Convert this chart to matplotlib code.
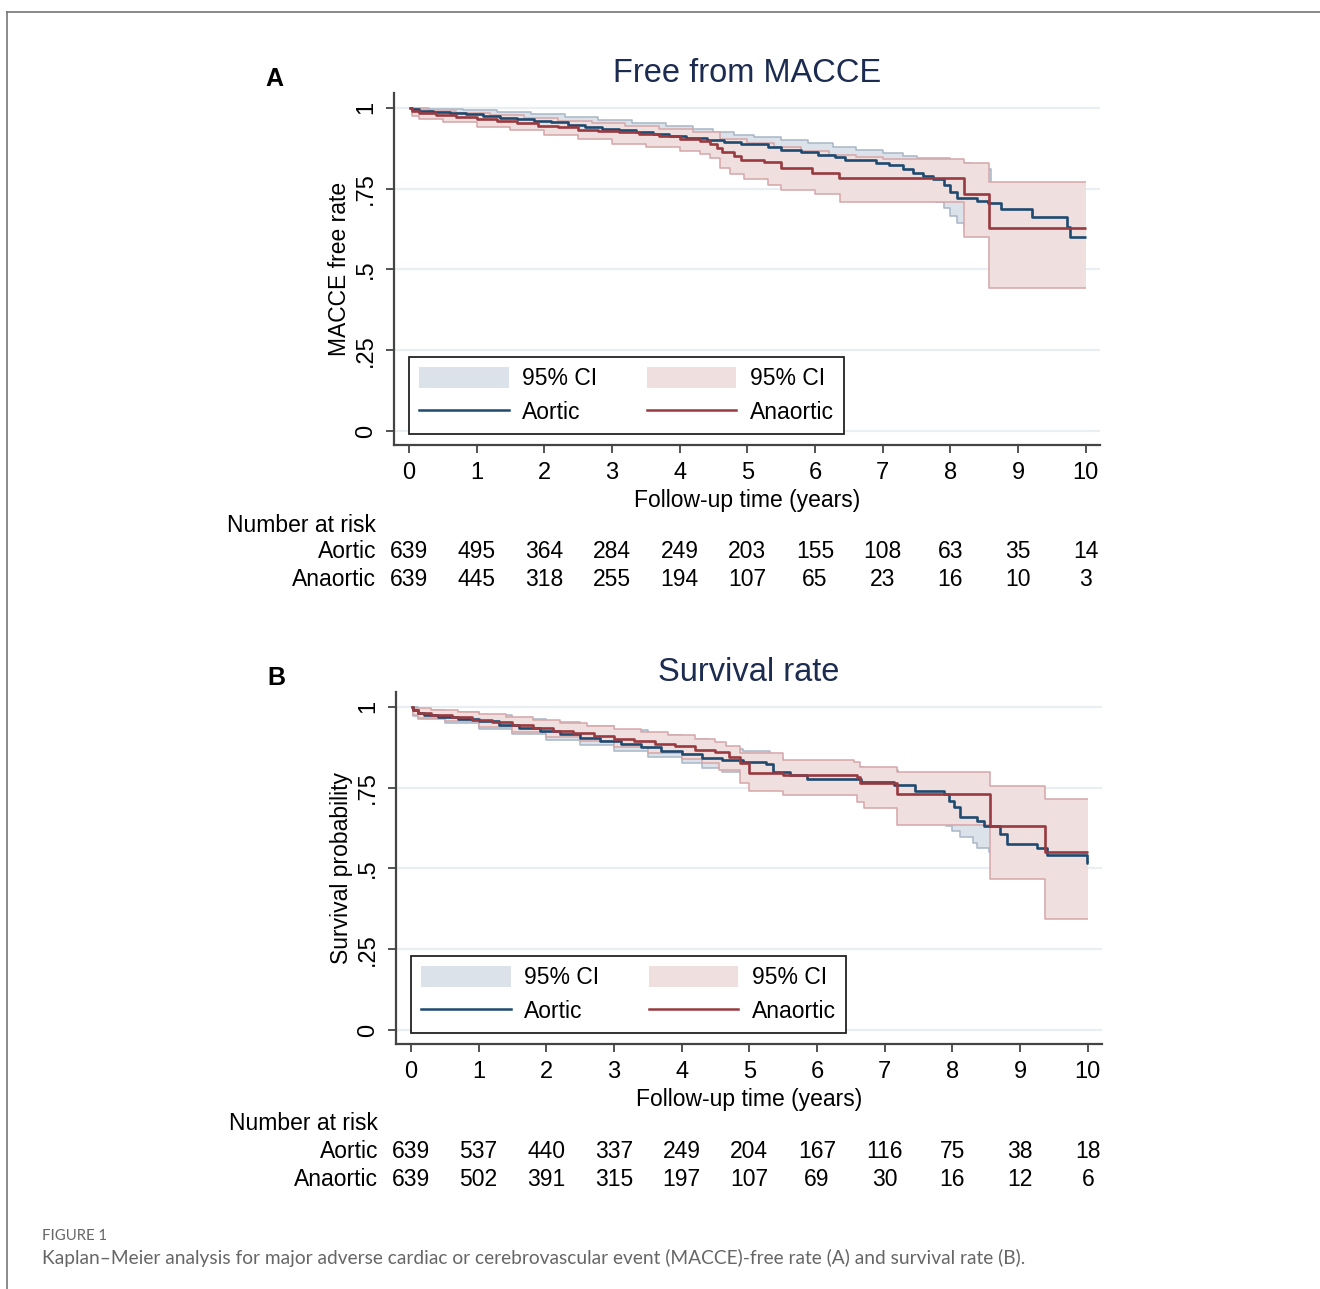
import numpy as np
import matplotlib
matplotlib.use("Agg")
import matplotlib.pyplot as plt
from matplotlib.patches import Patch
from matplotlib.lines import Line2D
import matplotlib.transforms as mtransforms

plt.rcParams['font.family'] = ['Liberation Sans', 'DejaVu Sans']

# ---- panel A: MACCE free rate (step knots) ----
a_aor_t = [0, 0.05, 0.15, 0.35, 0.6, 0.85, 1.1, 1.35, 1.6, 1.85, 2.1, 2.35, 2.6, 2.85, 3.1, 3.35, 3.6, 3.85,
           4.1, 4.4, 4.65, 4.9, 5.3, 5.5, 5.8, 6.05, 6.3, 6.45, 6.9, 7.1, 7.3, 7.45, 7.6, 7.75, 7.9, 8.0,
           8.1, 8.4, 8.55, 8.75, 9.2, 9.72, 9.77]
a_aor_s = [1.0, 0.995, 0.99, 0.988, 0.985, 0.98, 0.975, 0.97, 0.965, 0.96, 0.955, 0.948, 0.942, 0.936, 0.93,
           0.925, 0.918, 0.913, 0.908, 0.902, 0.895, 0.888, 0.878, 0.87, 0.862, 0.855, 0.848, 0.838, 0.83,
           0.822, 0.812, 0.8, 0.79, 0.78, 0.76, 0.74, 0.72, 0.712, 0.705, 0.688, 0.662, 0.632, 0.6]
a_aor_hi_t = [0, 0.3, 0.8, 1.3, 1.8, 2.3, 2.8, 3.3, 3.8, 4.2, 4.5, 4.8, 5.1, 5.5, 5.9, 6.26, 6.6, 7.0, 7.3,
              7.5, 8.0, 8.3, 8.6, 9.2, 9.75]
a_aor_hi_s = [1.0, 0.998, 0.993, 0.987, 0.98, 0.972, 0.963, 0.954, 0.945, 0.935, 0.925, 0.916, 0.91, 0.9,
              0.89, 0.88, 0.87, 0.86, 0.852, 0.845, 0.83, 0.81, 0.765, 0.745, 0.72]
a_aor_lo_t = [0, 0.05, 0.3, 0.8, 1.3, 1.8, 2.3, 2.8, 3.3, 3.8, 4.3, 4.9, 5.5, 6.0, 6.45, 7.0, 7.3, 7.45,
              7.6, 7.78, 7.9, 8.0, 8.1, 8.2, 8.55, 8.75, 9.2, 9.72, 9.77]
a_aor_lo_s = [1.0, 0.985, 0.978, 0.97, 0.96, 0.95, 0.94, 0.925, 0.915, 0.905, 0.89, 0.87, 0.855, 0.84,
              0.815, 0.8, 0.785, 0.765, 0.74, 0.708, 0.69, 0.665, 0.645, 0.635, 0.62, 0.6, 0.57, 0.53, 0.49]

a_ana_t = [0, 0.05, 0.15, 0.4, 0.7, 1.0, 1.3, 1.6, 1.9, 2.2, 2.5, 2.8, 3.1, 3.4, 3.7, 4.0, 4.3, 4.45, 4.55,
           4.62, 4.8, 4.9, 5.25, 5.5, 5.95, 6.35, 8.2, 8.57]
a_ana_s = [1.0, 0.99, 0.983, 0.978, 0.972, 0.965, 0.958, 0.953, 0.945, 0.94, 0.933, 0.928, 0.924, 0.918,
           0.912, 0.905, 0.897, 0.888, 0.875, 0.862, 0.85, 0.84, 0.832, 0.815, 0.8, 0.782, 0.735, 0.628]
a_ana_hi_t = [0, 0.05, 0.3, 0.7, 1.2, 1.7, 2.2, 2.7, 3.2, 3.7, 4.2, 4.6, 5.0, 5.4, 5.8, 6.2, 6.6, 7.0,
              8.2, 8.57]
a_ana_hi_s = [1.0, 0.998, 0.99, 0.985, 0.978, 0.97, 0.96, 0.952, 0.944, 0.936, 0.926, 0.905, 0.89, 0.878,
              0.866, 0.855, 0.848, 0.842, 0.83, 0.77]
a_ana_lo_t = [0, 0.05, 0.15, 0.5, 1.0, 1.5, 2.0, 2.5, 3.0, 3.5, 4.0, 4.3, 4.45, 4.6, 4.75, 4.95, 5.3, 5.5,
              6.0, 6.37, 8.2, 8.57]
a_ana_lo_s = [1.0, 0.975, 0.965, 0.955, 0.942, 0.93, 0.917, 0.905, 0.888, 0.878, 0.866, 0.858, 0.845,
              0.815, 0.795, 0.78, 0.762, 0.745, 0.733, 0.708, 0.602, 0.443]

# ---- panel B: survival probability ----
b_aor_t = [0, 0.03, 0.1, 0.2, 0.4, 0.7, 1.0, 1.3, 1.6, 1.9, 2.2, 2.5, 2.8, 3.1, 3.4, 3.7, 4.0, 4.3, 4.6,
           4.9, 5.25, 5.35, 5.6, 5.85, 6.65, 7.13, 7.45, 7.87, 7.95, 8.02, 8.11, 8.36, 8.46, 8.71, 8.8,
           9.25, 9.4, 9.99]
b_aor_s = [1.0, 0.99, 0.98, 0.975, 0.97, 0.963, 0.955, 0.945, 0.935, 0.925, 0.915, 0.905, 0.895, 0.885,
           0.875, 0.865, 0.855, 0.843, 0.835, 0.828, 0.822, 0.8, 0.79, 0.778, 0.768, 0.758, 0.74, 0.73,
           0.71, 0.69, 0.66, 0.648, 0.632, 0.608, 0.577, 0.562, 0.542, 0.516]
b_aor_hi_t = [0, 0.1, 0.5, 1.0, 1.5, 2.0, 2.5, 3.0, 3.5, 4.0, 4.4, 4.65, 4.9, 5.3, 5.5, 6.0, 6.7, 7.2,
              7.5, 8.0, 8.2, 8.5, 8.8, 9.4]
b_aor_hi_s = [1.0, 0.99, 0.985, 0.975, 0.963, 0.952, 0.94, 0.928, 0.914, 0.9, 0.885, 0.87, 0.862, 0.843,
              0.83, 0.815, 0.805, 0.79, 0.775, 0.765, 0.735, 0.72, 0.69, 0.675]
b_aor_lo_t = [0, 0.03, 0.1, 0.5, 1.0, 1.5, 2.0, 2.5, 3.0, 3.5, 4.0, 4.3, 4.6, 4.9, 5.3, 5.85, 6.65, 7.13,
              7.45, 7.9, 8.0, 8.11, 8.31, 8.36, 8.54, 8.71, 8.8, 9.4, 9.99]
b_aor_lo_s = [1.0, 0.972, 0.962, 0.95, 0.93, 0.915, 0.898, 0.882, 0.862, 0.845, 0.825, 0.81, 0.797, 0.788,
              0.77, 0.75, 0.735, 0.72, 0.67, 0.63, 0.615, 0.598, 0.58, 0.562, 0.55, 0.52, 0.49, 0.45, 0.42]

b_ana_t = [0, 0.03, 0.1, 0.3, 0.6, 0.9, 1.2, 1.5, 1.8, 2.1, 2.4, 2.7, 3.0, 3.3, 3.6, 3.9, 4.2, 4.5, 4.7,
           4.86, 5.0, 5.5, 6.59, 6.64, 7.18, 8.56, 9.37]
b_ana_s = [1.0, 0.99, 0.98, 0.975, 0.968, 0.96, 0.952, 0.944, 0.935, 0.926, 0.918, 0.91, 0.902, 0.894,
           0.886, 0.878, 0.868, 0.86, 0.845, 0.825, 0.794, 0.789, 0.784, 0.763, 0.73, 0.63, 0.551]
b_ana_hi_t = [0, 0.05, 0.3, 0.7, 1.0, 1.4, 1.8, 2.2, 2.6, 3.0, 3.4, 3.8, 4.2, 4.5, 4.65, 4.86, 5.5, 6.55,
              6.64, 7.18, 8.56, 9.37]
b_ana_hi_s = [1.0, 0.997, 0.99, 0.983, 0.977, 0.968, 0.958, 0.95, 0.94, 0.932, 0.922, 0.912, 0.9, 0.89,
              0.878, 0.856, 0.835, 0.83, 0.815, 0.8, 0.756, 0.716]
b_ana_lo_t = [0, 0.03, 0.1, 0.5, 1.0, 1.5, 2.0, 2.5, 3.0, 3.5, 4.0, 4.3, 4.55, 4.86, 5.0, 5.5, 6.59, 6.69,
              7.18, 8.56, 9.37]
b_ana_lo_s = [1.0, 0.975, 0.967, 0.955, 0.937, 0.922, 0.908, 0.893, 0.876, 0.858, 0.838, 0.826, 0.805,
              0.764, 0.74, 0.728, 0.706, 0.686, 0.633, 0.468, 0.344]

# number at risk
risk_times = list(range(0, 11))
a_risk_aortic = [639, 495, 364, 284, 249, 203, 155, 108, 63, 35, 14]
a_risk_anaortic = [639, 445, 318, 255, 194, 107, 65, 23, 16, 10, 3]
b_risk_aortic = [639, 537, 440, 337, 249, 204, 167, 116, 75, 38, 18]
b_risk_anaortic = [639, 502, 391, 315, 197, 107, 69, 30, 16, 12, 6]

t_end = 10.0
W, H = 1320, 1289

blue = '#1f4a70'
red = '#983a40'
blue_ci = '#dce2ea'
red_ci = '#f0dfdf'
blue_edge = '#a8b6c6'
red_edge = '#d6a6a8'
title_col = '#1c2b50'


def stairs(t, s):
    # stair coordinates of a right-continuous KM step curve
    x, y = [], []
    for i in range(len(t)):
        x.append(t[i])
        y.append(s[i])
        nxt = t[i + 1] if i + 1 < len(t) else t_end
        x.append(nxt)
        y.append(s[i])
    return np.array(x), np.array(y)


def ci_band(ax, t_hi, s_hi, t_lo, s_lo, face, edge, z):
    xh, yh = stairs(t_hi, s_hi)
    xl, yl = stairs(t_lo, s_lo)
    ax.fill(np.concatenate([xh, xl[::-1]]), np.concatenate([yh, yl[::-1]]),
            facecolor=face, edgecolor='none', zorder=z)
    ax.plot(xh, yh, color=edge, lw=1.1, zorder=z + 0.1, solid_capstyle='butt')
    ax.plot(xl, yl, color=edge, lw=1.1, zorder=z + 0.1, solid_capstyle='butt')


def panel(ax, curves, ylabel, title, letter, risk_a, risk_b, ytop):
    ax.set_xlim(-0.22, 10.21)
    ax.set_ylim(-0.043, 1.046)
    (at, as_, aht, ahs, alt, als), (nt, ns, nht, nhs, nlt, nls) = curves
    # blue band first, pink band drawn over it
    ci_band(ax, aht, ahs, alt, als, blue_ci, blue_edge, 2)
    ci_band(ax, nht, nhs, nlt, nls, red_ci, red_edge, 3)
    x, y = stairs(at, as_)
    ax.plot(x, y, color=blue, lw=1.9, zorder=4, solid_capstyle='butt')
    x, y = stairs(nt, ns)
    ax.plot(x, y, color=red, lw=1.9, zorder=4, solid_capstyle='butt')

    ax.set_yticks([0, 0.25, 0.5, 0.75, 1])
    ax.set_yticklabels(['0', '.25', '.5', '.75', '1'], rotation=90, va='center')
    ax.set_xticks(risk_times)
    ax.tick_params(axis='both', direction='out', length=6, width=1.3, color='#444',
                   labelsize=17, pad=6)
    ax.yaxis.grid(True, color='#e8eef2', lw=1.6)
    ax.set_axisbelow(True)
    for sp in ['top', 'right']:
        ax.spines[sp].set_visible(False)
    for sp in ['left', 'bottom']:
        ax.spines[sp].set_color('#444')
        ax.spines[sp].set_linewidth(1.6)
    ax.set_xlabel('Follow-up time (years)', fontsize=16.5, labelpad=4)
    ax.set_ylabel(ylabel, fontsize=16.5, labelpad=3)
    ax.set_title(title, fontsize=23.5, color=title_col, pad=8)

    handles = [Patch(facecolor=blue_ci, edgecolor='none'),
               Line2D([], [], color=blue, lw=1.8),
               Patch(facecolor=red_ci, edgecolor='none'),
               Line2D([], [], color=red, lw=1.8)]
    labels = ['95% CI', 'Aortic', '95% CI', 'Anaortic']
    leg = ax.legend(handles, labels, ncol=2, loc='lower left', bbox_to_anchor=(0.021, 0.031),
                    borderaxespad=0, fontsize=16.5, handlelength=3.9, handleheight=1.0,
                    handletextpad=0.6, columnspacing=2.15, labelspacing=0.45, borderpad=0.45,
                    fancybox=False, framealpha=1, edgecolor='#222')
    leg.get_frame().set_linewidth(1.3)
    leg.set_zorder(6)

    fig = ax.figure
    dx = ax.get_position().x0 - 394 / W
    fig.text(274 / W + dx, 1 - (ytop + 79) / H, letter,
             fontsize=18, fontweight='bold', ha='center', va='center')
    tr = mtransforms.blended_transform_factory(ax.transData, fig.transFigure)
    fig.text(227 / W + dx, 1 - (ytop + 525) / H, 'Number at risk',
             fontsize=16.5, ha='left', va='center')
    xr = 376 / W + dx
    fig.text(xr, 1 - (ytop + 552) / H, 'Aortic', fontsize=16.5, ha='right', va='center')
    fig.text(xr, 1 - (ytop + 580) / H, 'Anaortic', fontsize=16.5, ha='right', va='center')
    for t, ra, rb in zip(risk_times, risk_a, risk_b):
        ax.text(t, 1 - (ytop + 552) / H, str(ra), transform=tr, fontsize=16.5, ha='center',
                va='center', clip_on=False)
        ax.text(t, 1 - (ytop + 580) / H, str(rb), transform=tr, fontsize=16.5, ha='center',
                va='center', clip_on=False)


fig = plt.figure(figsize=(13.2, 12.89), dpi=100)
axA = fig.add_axes([394 / W, 1 - 445 / H, 706 / W, 352 / H])
axB = fig.add_axes([396 / W, 1 - 1044 / H, 706 / W, 352 / H])

panel(axA, [(a_aor_t, a_aor_s, a_aor_hi_t, a_aor_hi_s, a_aor_lo_t, a_aor_lo_s),
            (a_ana_t, a_ana_s, a_ana_hi_t, a_ana_hi_s, a_ana_lo_t, a_ana_lo_s)],
      'MACCE free rate', 'Free from MACCE', 'A', a_risk_aortic, a_risk_anaortic, 0)
panel(axB, [(b_aor_t, b_aor_s, b_aor_hi_t, b_aor_hi_s, b_aor_lo_t, b_aor_lo_s),
            (b_ana_t, b_ana_s, b_ana_hi_t, b_ana_hi_s, b_ana_lo_t, b_ana_lo_s)],
      'Survival probability', 'Survival rate', 'B', b_risk_aortic, b_risk_anaortic, 599)

# outer frame of the figure box
fig.add_artist(Line2D([7 / W, 7 / W], [0, 1 - 12 / H], color='#777', lw=1.2))
fig.add_artist(Line2D([7 / W, 1], [1 - 12 / H, 1 - 12 / H], color='#777', lw=1.2))

fig.text(42 / W, 1 - 1236 / H, 'FIGURE 1', fontsize=10.7, color='#666', family='Lato',
         ha='left', va='center')
fig.text(42 / W, 1 - 1258 / H,
         'Kaplan\u2013Meier analysis for major adverse cardiac or cerebrovascular event (MACCE)-free rate (A) and survival rate (B).',
         fontsize=13.8, color='#666', family='Lato', ha='left', va='center')

fig.savefig('out.png', dpi=100)
